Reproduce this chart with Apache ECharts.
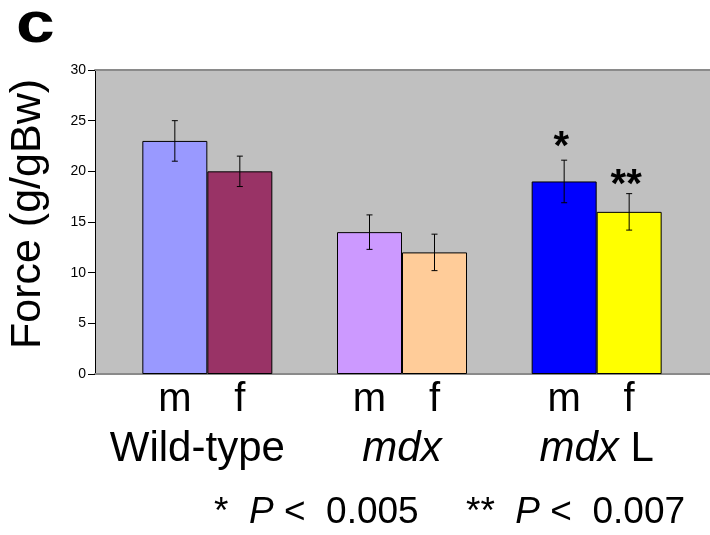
<!DOCTYPE html>
<html>
<head>
  <meta charset="utf-8" />
  <title>Force</title>
  <style>
    html, body { margin: 0; padding: 0; background: #fff; }
    #main { width: 710px; height: 535px; }
  </style>
</head>
<body>
  <div id="main"></div>
  <script src="https://cdn.jsdelivr.net/npm/echarts@6/dist/echarts.min.js"></script>
  <script>
    "use strict";

    // data
    var groups = ['Wild-type', 'mdx', 'mdx L'];
    var maleForce = [23, 14, 19];
    var femaleForce = [20, 12, 16];
    var maleErr = [2, 1.7, 2.1];
    var femaleErr = [1.5, 1.8, 1.8];
    var maleSig = ['', '', '*'];
    var femaleSig = ['', '', '**'];
    var yTicks = [0, 5, 10, 15, 20, 25, 30];

    var maleColors = ['#9999ff', '#cc99ff', '#0000ff'];
    var femaleColors = ['#993366', '#ffcc99', '#ffff00'];

    var FONT = "'Liberation Sans', Arial, Helvetica, sans-serif";
    var BAR_W = 65;

    var chart = echarts.init(document.getElementById('main'));

    function barData(vals, colors) {
      return vals.map(function (v, i) {
        return { value: v, itemStyle: { color: colors[i] } };
      });
    }

    function errData(vals, errs, sig) {
      return vals.map(function (v, i) {
        return [i, v, errs[i], sig[i]];
      });
    }

    // error bars + significance stars, drawn through the axis scales
    function errRenderer(side, sig, starDrop) {
      return function (params, api) {
        var i = api.value(0);
        var mean = api.value(1);
        var e = api.value(2);
        var hi = api.coord([i, mean + e]);
        var lo = api.coord([i, mean - e]);
        var x = hi[0] + side * BAR_W / 2;
        var cap = 3;
        var st = { stroke: '#000', lineWidth: 1 };
        var kids = [
          { type: 'line', shape: { x1: x, y1: hi[1], x2: x, y2: lo[1] }, style: st },
          { type: 'line', shape: { x1: x - cap, y1: hi[1], x2: x + cap, y2: hi[1] }, style: st },
          { type: 'line', shape: { x1: x - cap, y1: lo[1], x2: x + cap, y2: lo[1] }, style: st }
        ];
        var s = sig[params.dataIndex];
        if (s) {
          kids.push({
            type: 'text',
            x: x - 3,
            y: hi[1] + starDrop,
            style: {
              text: s, fill: '#000', font: 'bold 40px ' + FONT,
              align: 'center', verticalAlign: 'bottom'
            }
          });
        }
        return { type: 'group', children: kids };
      };
    }

    var option = {
      backgroundColor: '#fff',
      animation: false,
      grid: [
        {
          left: 95, right: 0, top: 70, height: 304, show: true, backgroundColor: '#c0c0c0',
          borderWidth: 0, containLabel: false, outerBoundsMode: 'none'
        },
        { left: 110, right: 16, top: 70, height: 304, containLabel: false, outerBoundsMode: 'none' }
      ],
      xAxis: [
        {
          gridIndex: 0, type: 'value', min: 0, max: 1,
          axisLine: { show: true, lineStyle: { color: '#8a8a8a', width: 2 } },
          axisTick: { show: false }, axisLabel: { show: false }, splitLine: { show: false }
        },
        {
          gridIndex: 0, type: 'value', min: 0, max: 1, position: 'top',
          axisLine: { show: true, lineStyle: { color: '#8a8a8a', width: 2 } },
          axisTick: { show: false }, axisLabel: { show: false }, splitLine: { show: false }
        },
        {
          gridIndex: 1, type: 'category', data: groups,
          axisLine: { show: false }, axisTick: { show: false },
          axisLabel: {
            interval: 0,
            hideOverlap: false,
            margin: 54,
            color: '#000',
            fontSize: 42,
            fontFamily: FONT,
            formatter: function (v) {
              if (v === 'Wild-type') return '{w|Wild-type}';
              if (v === 'mdx') return '{i|mdx}';
              return '{i|mdx}{n| L}';
            },
            rich: {
              w: { fontSize: 42, fontFamily: FONT, color: '#000', padding: [0, 20, 0, 0] },
              i: { fontSize: 42, fontFamily: FONT, color: '#000', fontStyle: 'italic' },
              n: { fontSize: 42, fontFamily: FONT, color: '#000' }
            }
          }
        }
      ],
      yAxis: [
        {
          gridIndex: 0, type: 'value', min: yTicks[0], max: yTicks[yTicks.length - 1], interval: 5,
          name: 'Force (g/gBw)',
          nameLocation: 'middle',
          nameRotate: 90,
          nameGap: 45,
          nameMoveOverlap: false,
          nameTextStyle: { fontSize: 43, fontFamily: FONT, color: '#000', padding: [0, 0, 0, 16] },
          axisLine: { show: true, lineStyle: { color: '#000', width: 1 } },
          axisTick: { show: true, length: 7, lineStyle: { color: '#000' } },
          axisLabel: { fontSize: 14, fontFamily: FONT, color: '#000', margin: 9 },
          splitLine: { show: false }
        },
        {
          gridIndex: 1, type: 'value', min: 0, max: 30,
          show: false
        }
      ],
      series: [
        {
          name: 'm', type: 'bar', xAxisIndex: 2, yAxisIndex: 1,
          barWidth: BAR_W, barGap: '0%',
          data: barData(maleForce, maleColors),
          itemStyle: { borderColor: '#000', borderWidth: 1 },
          label: {
            show: true, position: 'bottom', distance: 6, formatter: 'm',
            fontSize: 40, fontFamily: FONT, color: '#000'
          }
        },
        {
          name: 'f', type: 'bar', xAxisIndex: 2, yAxisIndex: 1,
          barWidth: BAR_W, barGap: '0%',
          data: barData(femaleForce, femaleColors),
          itemStyle: { borderColor: '#000', borderWidth: 1 },
          label: {
            show: true, position: 'bottom', distance: 6, formatter: 'f',
            fontSize: 40, fontFamily: FONT, color: '#000'
          }
        },
        {
          type: 'custom', xAxisIndex: 2, yAxisIndex: 1, z: 5,
          renderItem: errRenderer(-1, maleSig, 8),
          data: errData(maleForce, maleErr, maleSig)
        },
        {
          type: 'custom', xAxisIndex: 2, yAxisIndex: 1, z: 5,
          renderItem: errRenderer(1, femaleSig, 12),
          data: errData(femaleForce, femaleErr, femaleSig)
        }
      ],
      graphic: [
        {
          type: 'text',
          x: 16,
          y: -3,
          scaleX: 1.2,
          style: {
            text: 'c',
            font: '900 58px ' + FONT,
            fill: '#000'
          }
        },
        {
          type: 'text',
          left: 214,
          top: 494,
          style: {
            text: '*  {i|P} <  0.005',
            font: '37px ' + FONT,
            fill: '#000',
            rich: {
              i: { fontStyle: 'italic', fontSize: 37, fontFamily: FONT, fill: '#000' }
            }
          }
        },
        {
          type: 'text',
          left: 466,
          top: 494,
          style: {
            text: '**  {i|P} <  0.007',
            font: '37px ' + FONT,
            fill: '#000',
            rich: {
              i: { fontStyle: 'italic', fontSize: 37, fontFamily: FONT, fill: '#000' }
            }
          }
        }
      ]
    };

    chart.setOption(option);
  </script>
</body>
</html>
